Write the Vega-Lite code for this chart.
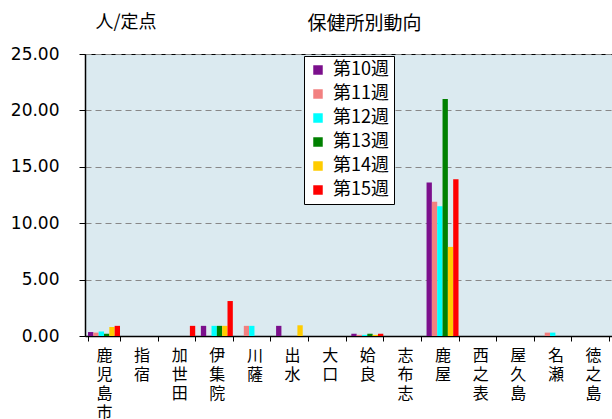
{
  "$schema": "https://vega.github.io/schema/vega-lite/v6.json",
  "autosize": "none",
  "width": 527,
  "height": 282,
  "padding": {"left": 85, "top": 54, "right": 0, "bottom": 83},
  "background": "#ffffff",
  "config": {
    "font": "Noto Sans CJK JP",
    "view": {"fill": "#DBEAF0", "stroke": "#000000", "strokeWidth": 1}
  },
  "title": {
    "text": "保健所別動向",
    "fontSize": 19,
    "fontWeight": "normal",
    "color": "#000000",
    "anchor": "middle",
    "dx": 16,
    "offset": -21
  },
  "data": {
    "values": [
      {"center": "鹿児島市", "week": "第10週", "value": 0.35},
      {"center": "鹿児島市", "week": "第11週", "value": 0.3},
      {"center": "鹿児島市", "week": "第12週", "value": 0.4},
      {"center": "鹿児島市", "week": "第13週", "value": 0.2},
      {"center": "鹿児島市", "week": "第14週", "value": 0.8},
      {"center": "鹿児島市", "week": "第15週", "value": 0.9},
      {"center": "指宿", "week": "第10週", "value": 0},
      {"center": "指宿", "week": "第11週", "value": 0},
      {"center": "指宿", "week": "第12週", "value": 0},
      {"center": "指宿", "week": "第13週", "value": 0},
      {"center": "指宿", "week": "第14週", "value": 0},
      {"center": "指宿", "week": "第15週", "value": 0},
      {"center": "加世田", "week": "第10週", "value": 0},
      {"center": "加世田", "week": "第11週", "value": 0},
      {"center": "加世田", "week": "第12週", "value": 0},
      {"center": "加世田", "week": "第13週", "value": 0},
      {"center": "加世田", "week": "第14週", "value": 0},
      {"center": "加世田", "week": "第15週", "value": 0.9},
      {"center": "伊集院", "week": "第10週", "value": 0.9},
      {"center": "伊集院", "week": "第11週", "value": 0},
      {"center": "伊集院", "week": "第12週", "value": 0.9},
      {"center": "伊集院", "week": "第13週", "value": 0.9},
      {"center": "伊集院", "week": "第14週", "value": 0.9},
      {"center": "伊集院", "week": "第15週", "value": 3.1},
      {"center": "川薩", "week": "第10週", "value": 0},
      {"center": "川薩", "week": "第11週", "value": 0.9},
      {"center": "川薩", "week": "第12週", "value": 0.9},
      {"center": "川薩", "week": "第13週", "value": 0},
      {"center": "川薩", "week": "第14週", "value": 0},
      {"center": "川薩", "week": "第15週", "value": 0},
      {"center": "出水", "week": "第10週", "value": 0.9},
      {"center": "出水", "week": "第11週", "value": 0},
      {"center": "出水", "week": "第12週", "value": 0},
      {"center": "出水", "week": "第13週", "value": 0},
      {"center": "出水", "week": "第14週", "value": 0.95},
      {"center": "出水", "week": "第15週", "value": 0},
      {"center": "大口", "week": "第10週", "value": 0},
      {"center": "大口", "week": "第11週", "value": 0},
      {"center": "大口", "week": "第12週", "value": 0},
      {"center": "大口", "week": "第13週", "value": 0},
      {"center": "大口", "week": "第14週", "value": 0},
      {"center": "大口", "week": "第15週", "value": 0},
      {"center": "姶良", "week": "第10週", "value": 0.2},
      {"center": "姶良", "week": "第11週", "value": 0.1},
      {"center": "姶良", "week": "第12週", "value": 0.1},
      {"center": "姶良", "week": "第13週", "value": 0.2},
      {"center": "姶良", "week": "第14週", "value": 0.1},
      {"center": "姶良", "week": "第15週", "value": 0.2},
      {"center": "志布志", "week": "第10週", "value": 0},
      {"center": "志布志", "week": "第11週", "value": 0},
      {"center": "志布志", "week": "第12週", "value": 0},
      {"center": "志布志", "week": "第13週", "value": 0},
      {"center": "志布志", "week": "第14週", "value": 0},
      {"center": "志布志", "week": "第15週", "value": 0},
      {"center": "鹿屋", "week": "第10週", "value": 13.6},
      {"center": "鹿屋", "week": "第11週", "value": 11.9},
      {"center": "鹿屋", "week": "第12週", "value": 11.5},
      {"center": "鹿屋", "week": "第13週", "value": 21.0},
      {"center": "鹿屋", "week": "第14週", "value": 7.9},
      {"center": "鹿屋", "week": "第15週", "value": 13.9},
      {"center": "西之表", "week": "第10週", "value": 0},
      {"center": "西之表", "week": "第11週", "value": 0},
      {"center": "西之表", "week": "第12週", "value": 0},
      {"center": "西之表", "week": "第13週", "value": 0},
      {"center": "西之表", "week": "第14週", "value": 0},
      {"center": "西之表", "week": "第15週", "value": 0},
      {"center": "屋久島", "week": "第10週", "value": 0},
      {"center": "屋久島", "week": "第11週", "value": 0},
      {"center": "屋久島", "week": "第12週", "value": 0},
      {"center": "屋久島", "week": "第13週", "value": 0},
      {"center": "屋久島", "week": "第14週", "value": 0},
      {"center": "屋久島", "week": "第15週", "value": 0},
      {"center": "名瀬", "week": "第10週", "value": 0},
      {"center": "名瀬", "week": "第11週", "value": 0.3},
      {"center": "名瀬", "week": "第12週", "value": 0.3},
      {"center": "名瀬", "week": "第13週", "value": 0},
      {"center": "名瀬", "week": "第14週", "value": 0},
      {"center": "名瀬", "week": "第15週", "value": 0},
      {"center": "徳之島", "week": "第10週", "value": 0},
      {"center": "徳之島", "week": "第11週", "value": 0},
      {"center": "徳之島", "week": "第12週", "value": 0},
      {"center": "徳之島", "week": "第13週", "value": 0},
      {"center": "徳之島", "week": "第14週", "value": 0},
      {"center": "徳之島", "week": "第15週", "value": 0}
    ]
  },
  "mark": {"type": "bar"},
  "encoding": {
    "x": {
      "field": "center",
      "type": "nominal",
      "sort": null,
      "scale": {"paddingInner": 0.15, "paddingOuter": 0.08},
      "axis": {
        "title": null,
        "labelAngle": 0,
        "labelExpr": "split(datum.label, '')",
        "labelFontSize": 16,
        "labelLineHeight": 19,
        "labelColor": "#000000",
        "labelBaseline": "top",
        "labelPadding": 6,
        "labelDx": 6,
        "domainColor": "#000000",
        "domainWidth": 1.5,
        "tickColor": "#000000",
        "tickSize": 5,
        "tickBand": "extent"
      }
    },
    "xOffset": {"field": "week", "type": "nominal", "scale": {"paddingInner": 0, "paddingOuter": 0}},
    "y": {
      "field": "value",
      "type": "quantitative",
      "scale": {"domain": [0, 25], "nice": false},
      "axis": {
        "title": "人/定点",
        "titleAngle": 0,
        "titleX": 10,
        "titleY": -32,
        "titleAlign": "left",
        "titleBaseline": "middle",
        "titleFontSize": 18,
        "titleFontWeight": "normal",
        "titleColor": "#000000",
        "values": [0, 5, 10, 15, 20, 25],
        "format": ".2f",
        "labelFontSize": 17,
        "labelFont": "DejaVu Sans",
        "labelColor": "#000000",
        "labelPadding": 20,
        "tickSize": 6,
        "tickColor": "#000000",
        "domainColor": "#000000",
        "domainWidth": 1.5,
        "grid": true,
        "gridColor": "#888888",
        "gridDash": [6, 4],
        "gridWidth": 1
      }
    },
    "color": {
      "field": "week",
      "type": "nominal",
      "scale": {
        "domain": ["第10週", "第11週", "第12週", "第13週", "第14週", "第15週"],
        "range": ["#7B0F8C", "#F28080", "#00FFFF", "#008000", "#FFCC00", "#FF0000"]
      },
      "legend": {
        "title": null,
        "orient": "none",
        "legendX": 219,
        "legendY": 2,
        "symbolType": "square",
        "symbolSize": 90,
        "symbolStrokeWidth": 0,
        "labelFontSize": 18,
        "labelColor": "#000000",
        "rowPadding": 6,
        "padding": 5,
        "fillColor": "#ffffff",
        "strokeColor": "#000000",
        "labelOffset": 6
      }
    }
  }
}
